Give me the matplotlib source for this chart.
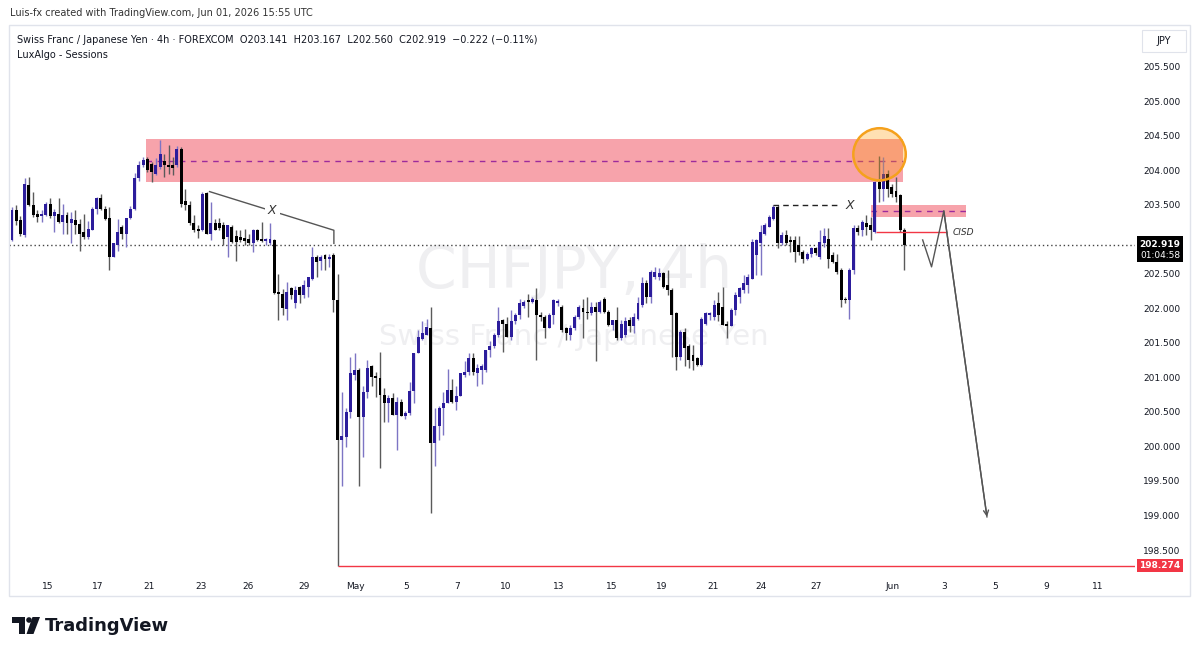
import matplotlib
matplotlib.use("Agg")
import matplotlib.pyplot as plt
from matplotlib.patches import Rectangle, Ellipse, Polygon

plt.rcParams['font.family'] = ['DejaVu Sans']

# 4h candles, CHFJPY
opens = [202.99, 203.43, 203.28, 203.06, 203.78, 203.50, 203.37, 203.33, 203.35, 203.51,
         203.33, 203.37, 203.25, 203.35, 203.23, 203.28, 203.22, 203.10, 203.03, 203.13,
         203.44, 203.59, 203.44, 203.31, 202.75, 202.92, 203.18, 203.08, 203.31, 203.44,
         203.88, 204.07, 204.16, 204.09, 203.95, 204.05, 204.14, 204.08, 204.07, 204.08,
         204.30, 203.55, 203.49, 203.23, 203.15, 203.13, 203.67, 203.08, 203.23, 203.23,
         203.20, 203.03, 203.18, 203.04, 203.03, 203.02, 203.01, 202.94, 203.14, 203.01,
         202.98, 202.94, 202.99, 202.24, 202.20, 201.99, 202.29, 202.07, 202.31, 202.19,
         202.31, 202.43, 202.75, 202.69, 202.77, 202.72, 202.77, 202.12, 200.10, 200.14,
         200.50, 201.04, 201.11, 200.43, 200.79, 201.16, 201.02, 200.99, 200.75, 200.63,
         200.70, 200.46, 200.64, 200.44, 200.48, 200.80, 201.35, 201.56, 201.61, 201.71,
         200.05, 200.29, 200.55, 200.63, 200.82, 200.65, 200.73, 201.04, 201.08, 201.28,
         201.06, 201.11, 201.11, 201.40, 201.45, 201.61, 201.83, 201.78, 201.59, 201.81,
         201.90, 202.04, 202.12, 202.09, 202.12, 201.90, 201.88, 201.72, 201.90, 202.07,
         202.02, 201.71, 201.61, 201.71, 201.88, 202.00, 201.95, 201.93, 202.02, 201.95,
         202.14, 201.95, 201.76, 201.83, 201.57, 201.62, 201.83, 201.74, 201.85, 202.05,
         202.36, 202.17, 202.46, 202.46, 202.51, 202.34, 202.26, 201.93, 201.30, 201.66,
         201.45, 201.33, 201.28, 201.18, 201.78, 201.90, 201.88, 202.07, 202.02, 201.78,
         201.74, 201.97, 202.17, 202.26, 202.34, 202.43, 202.77, 202.94, 203.08, 203.18,
         203.30, 203.47, 202.94, 203.06, 202.99, 202.99, 202.92, 202.82, 202.72, 202.79,
         202.87, 202.75, 202.94, 203.01, 202.77, 202.67, 202.55, 202.14, 202.12, 202.55,
         203.16, 203.13, 203.23, 203.20, 203.11, 203.83, 203.73, 203.95, 203.76, 203.70,
         203.64, 203.141]
highs = [203.47, 203.49, 203.33, 203.88, 203.90, 203.68, 203.42, 203.42, 203.54, 203.59,
         203.44, 203.59, 203.51, 203.40, 203.40, 203.42, 203.30, 203.37, 203.27, 203.47,
         203.61, 203.66, 203.48, 203.47, 202.95, 203.30, 203.20, 203.31, 203.48, 203.96,
         204.14, 204.19, 204.19, 204.12, 204.17, 204.43, 204.24, 204.36, 204.19, 204.35,
         204.34, 203.73, 203.55, 203.35, 203.20, 203.68, 203.68, 203.54, 203.30, 203.31,
         203.25, 203.20, 203.20, 203.13, 203.13, 203.15, 203.08, 203.15, 203.15, 203.25,
         203.02, 203.24, 203.00, 202.50, 202.28, 202.38, 202.31, 202.33, 202.33, 202.41,
         202.46, 202.89, 202.77, 202.77, 202.78, 202.78, 202.80, 202.50, 200.79, 200.55,
         201.30, 201.35, 201.13, 200.87, 201.25, 201.18, 201.08, 201.37, 200.84, 200.75,
         200.77, 200.72, 200.68, 200.52, 200.94, 201.35, 201.69, 201.81, 201.85, 202.02,
         200.55, 200.58, 200.79, 201.12, 200.97, 200.87, 201.06, 201.23, 201.35, 201.35,
         201.20, 201.20, 201.40, 201.52, 201.64, 202.02, 201.85, 201.88, 201.97, 201.93,
         202.14, 202.12, 202.21, 202.17, 202.29, 201.95, 201.90, 201.93, 202.14, 202.14,
         202.05, 201.73, 201.76, 201.90, 202.05, 202.14, 202.17, 202.09, 202.09, 202.12,
         202.17, 201.98, 201.83, 202.02, 201.83, 201.88, 201.88, 201.93, 202.17, 202.46,
         202.41, 202.55, 202.60, 202.58, 202.53, 202.55, 202.29, 201.95, 201.69, 201.71,
         201.49, 201.47, 201.30, 201.88, 201.95, 201.95, 202.12, 202.24, 202.31, 201.81,
         202.00, 202.24, 202.31, 202.48, 202.50, 203.01, 203.01, 203.20, 203.23, 203.35,
         203.49, 203.49, 203.11, 203.13, 203.04, 203.04, 203.04, 202.84, 202.82, 202.89,
         202.89, 203.13, 203.16, 203.16, 202.82, 202.79, 202.58, 202.17, 202.58, 203.20,
         203.20, 203.28, 203.35, 203.32, 203.85, 204.21, 204.19, 204.00, 203.80, 203.90,
         203.66, 203.167]
lows = [202.97, 203.20, 203.04, 203.03, 203.48, 203.32, 203.25, 203.25, 203.34, 203.31,
        203.11, 203.23, 203.08, 203.07, 202.94, 203.08, 202.83, 203.01, 203.01, 203.13,
        203.37, 203.42, 203.28, 202.55, 202.74, 202.83, 203.01, 202.89, 203.30, 203.42,
        203.85, 204.04, 203.97, 203.83, 203.93, 204.02, 203.90, 203.95, 203.93, 204.05,
        203.47, 203.42, 203.20, 203.11, 203.02, 203.12, 203.07, 202.99, 203.13, 203.13,
        202.91, 202.74, 202.94, 202.69, 202.96, 202.91, 202.91, 202.82, 202.98, 202.96,
        202.91, 202.91, 202.20, 201.83, 201.90, 201.83, 202.13, 202.00, 202.07, 202.15,
        202.17, 202.41, 202.46, 202.55, 202.55, 202.60, 201.95, 198.274, 199.42, 199.99,
        200.41, 200.96, 199.42, 199.84, 200.70, 200.87, 200.72, 199.69, 200.36, 200.36,
        200.46, 199.95, 200.44, 200.40, 200.46, 200.63, 201.35, 201.54, 201.61, 199.04,
        199.71, 200.10, 200.17, 200.63, 200.63, 200.53, 200.73, 201.01, 201.04, 201.04,
        200.87, 200.91, 201.08, 201.30, 201.42, 201.59, 201.37, 201.59, 201.54, 201.78,
        201.85, 202.00, 201.88, 202.07, 201.25, 201.81, 201.57, 201.71, 201.78, 202.04,
        201.66, 201.54, 201.54, 201.69, 201.85, 201.57, 201.85, 201.90, 201.23, 201.93,
        201.93, 201.74, 201.69, 201.54, 201.54, 201.59, 201.66, 201.64, 201.83, 202.02,
        202.07, 202.07, 202.43, 202.41, 202.29, 202.19, 201.30, 201.11, 201.25, 201.16,
        201.13, 201.11, 201.16, 201.16, 201.76, 201.83, 201.83, 201.81, 201.76, 201.57,
        201.74, 201.90, 202.07, 202.22, 202.22, 202.43, 202.48, 202.48, 203.06, 203.18,
        203.28, 202.87, 202.92, 202.92, 202.82, 202.67, 202.77, 202.65, 202.70, 202.74,
        202.77, 202.72, 202.89, 202.58, 202.65, 202.50, 202.02, 202.07, 201.85, 202.50,
        203.06, 203.04, 203.06, 202.99, 203.09, 203.54, 203.56, 203.61, 203.61, 203.54,
        203.10, 202.560]
closes = [203.43, 203.27, 203.07, 203.80, 203.49, 203.35, 203.32, 203.37, 203.51, 203.33,
          203.39, 203.25, 203.35, 203.24, 203.30, 203.20, 203.08, 203.03, 203.15, 203.44,
          203.59, 203.44, 203.29, 202.75, 202.94, 203.11, 203.08, 203.31, 203.44, 203.88,
          204.07, 204.15, 204.00, 203.97, 204.07, 204.24, 204.07, 204.05, 204.03, 204.30,
          203.51, 203.49, 203.23, 203.13, 203.12, 203.66, 203.08, 203.23, 203.14, 203.16,
          203.01, 203.20, 202.96, 202.96, 202.99, 202.98, 202.94, 203.14, 202.99, 202.98,
          203.00, 203.00, 202.22, 202.20, 202.00, 202.24, 202.19, 202.27, 202.19, 202.34,
          202.46, 202.74, 202.67, 202.75, 202.72, 202.75, 202.12, 200.10, 200.15, 200.50,
          201.06, 201.11, 200.43, 200.79, 201.13, 201.01, 200.99, 200.75, 200.63, 200.70,
          200.46, 200.64, 200.44, 200.48, 200.80, 201.35, 201.59, 201.64, 201.73, 200.05,
          200.29, 200.55, 200.63, 200.82, 200.65, 200.73, 201.06, 201.08, 201.28, 201.08,
          201.13, 201.16, 201.40, 201.45, 201.61, 201.81, 201.78, 201.59, 201.81, 201.90,
          202.07, 202.09, 202.09, 202.13, 201.90, 201.88, 201.72, 201.90, 202.12, 202.11,
          201.69, 201.64, 201.71, 201.88, 202.02, 201.95, 201.93, 202.02, 201.95, 202.09,
          201.95, 201.76, 201.83, 201.57, 201.78, 201.81, 201.74, 201.88, 202.07, 202.36,
          202.17, 202.53, 202.53, 202.51, 202.31, 202.27, 201.90, 201.30, 201.66, 201.42,
          201.25, 201.23, 201.18, 201.85, 201.93, 201.93, 202.05, 201.90, 201.76, 201.74,
          201.97, 202.19, 202.29, 202.36, 202.46, 202.96, 202.99, 203.11, 203.20, 203.32,
          203.47, 202.94, 203.06, 202.94, 202.96, 202.82, 202.82, 202.72, 202.79, 202.87,
          202.80, 202.96, 203.04, 202.72, 202.67, 202.53, 202.12, 202.12, 202.55, 203.16,
          203.11, 203.25, 203.18, 203.13, 203.83, 203.73, 203.95, 203.73, 203.66, 203.61,
          203.13, 202.919]

price_ticks = [198.5, 199.0, 199.5, 200.0, 200.5, 201.0, 201.5, 202.0, 202.5,
               203.0, 203.5, 204.0, 204.5, 205.0, 205.5]
date_ticks = [8.5, 20.2, 32.3, 44.7, 55.8, 69.1, 81.3, 93.2, 105.3, 116.8, 129.3,
              141.7, 153.7, 165.7, 177.0, 190.1, 208.2, 220.4, 232.5, 244.4, 256.6]
date_labels = ['15', '17', '21', '23', '26', '29', 'May', '5', '7', '10', '13',
               '15', '19', '21', '24', '27', 'Jun', '3', '5', '9', '11']

# drawings
zone_x = [31.7, 210.6]
zone_y = [203.83, 204.45]
zone_mid = 204.14
small_x = [203.2, 225.5]
small_y = [203.32, 203.50]
small_mid = 203.41
cisd_level = 203.10
cisd_x = [204.3, 221.0]
zig_x = [215.3, 217.4, 220.3, 230.5]
zig_y = [202.99, 202.60, 203.41, 198.98]
lx_x = [46.7, 76.1, 76.1]
lx_y = [203.69, 203.13, 202.94]
rx_x = [179.9, 195.7]
rx_level = 203.49
circle_c = (205.1, 204.23)
low_level = 198.274
low_idx = 77
last_price = 202.919

W, H = 1200, 652
fig = plt.figure(figsize=(W / 100, H / 100), dpi=100)
fig.patch.set_facecolor('white')


def fx(px):
    return px / W


def fy(py):
    return 1 - py / H


ax = fig.add_axes([fx(9), fy(572), (1135 - 9) / W, (572 - 25) / H])
ax.set_xlim(-0.71, 265.5)
ax.set_ylim(198.182, 206.102)
for s in ax.spines.values():
    s.set_visible(False)

ax.yaxis.tick_right()
ax.set_yticks(price_ticks)
ax.set_yticklabels(['%.3f' % v for v in price_ticks])
ax.tick_params(axis='y', length=0, pad=6, labelsize=6.5, labelcolor='#131722')
ax.set_xticks(date_ticks)
ax.set_xticklabels(date_labels)
ax.tick_params(axis='x', length=0, pad=7, labelsize=6.5, labelcolor='#131722')

# watermark
ax.text(fx(574), fy(272), 'CHFJPY, 4h', transform=fig.transFigure, fontsize=42,
        color='#efeff1', ha='center', va='center', zorder=0.2)
ax.text(fx(574), fy(337), 'Swiss Franc / Japanese Yen', transform=fig.transFigure,
        fontsize=21, color='#efeff1', ha='center', va='center', zorder=0.2)

# candles
idx = list(range(len(opens)))
up = [c >= o for o, c in zip(opens, closes)]
wick_cols = ['#7d75c4' if u else '#5a5a5a' for u in up]
body_cols = ['#2c1d9c' if u else '#000000' for u in up]
ax.vlines(idx, lows, highs, colors=wick_cols, lw=1, zorder=3)
ax.bar(idx, [max(abs(c - o), 0.012) for o, c in zip(opens, closes)], width=0.7,
       bottom=[min(o, c) for o, c in zip(opens, closes)], color=body_cols, zorder=4)

# supply zone
ax.add_patch(Rectangle((zone_x[0], zone_y[0]), zone_x[1] - zone_x[0], zone_y[1] - zone_y[0],
                       facecolor='#f7a3ab', edgecolor='none', zorder=1))
ax.hlines(zone_mid, zone_x[0], zone_x[1], colors='#9c2b9c', lw=1,
          linestyles=(0, (4, 4)), zorder=2)
ax.add_patch(Rectangle((small_x[0], small_y[0]), small_x[1] - small_x[0], small_y[1] - small_y[0],
                       facecolor='#f7a3ab', edgecolor='none', zorder=1))
ax.hlines(small_mid, small_x[0], small_x[1], colors='#9c2b9c', lw=1,
          linestyles=(0, (4, 4)), zorder=2)

ax.add_patch(Ellipse(circle_c, 12.4, 0.755, facecolor=(1.0, 0.6, 0.0, 0.3),
                     edgecolor='#f5a11c', lw=1.8, zorder=5))

# CISD
ax.hlines(cisd_level, cisd_x[0], cisd_x[1], colors='#f23645', lw=1, zorder=5)
ax.text(cisd_x[1] + 1.5, cisd_level, 'CISD', fontsize=6.5, style='italic',
        color='#333333', va='center', ha='left', zorder=6)

# projection path
ax.plot(zig_x, zig_y, color='#555555', lw=1, zorder=6)
ax.annotate('', xy=(zig_x[-1], zig_y[-1]), xytext=(zig_x[-2], zig_y[-2]),
            arrowprops=dict(arrowstyle='->', color='#555555', lw=1,
                            mutation_scale=9, shrinkA=0, shrinkB=0), zorder=6)

# X drawings
ax.plot(lx_x, lx_y, color='#555555', lw=1, zorder=6)
ax.text(61.5, 203.41, 'X', fontsize=9, style='italic', color='#333333', ha='center',
        va='center', zorder=7, bbox=dict(boxstyle='square,pad=0.25', fc='white', ec='none'))
ax.hlines(rx_level, rx_x[0], rx_x[1], colors='#222222', lw=1,
          linestyles=(0, (4, 3)), zorder=6)
ax.text(rx_x[1] + 2.4, rx_level, 'X', fontsize=9, style='italic', color='#333333',
        ha='center', va='center', zorder=7)

# current price dotted line and low line
ax.axhline(last_price, color='#444444', lw=1, linestyle=(0, (1, 2)), zorder=2)
ax.hlines(low_level, low_idx, 265.5, colors='#f23645', lw=1, zorder=5)


# price scale labels
def price_px(v):
    return ax.transData.transform((0, v))[1]


yd = price_px(last_price)
fig.add_artist(Rectangle((fx(1137), (yd - 17) / H), 46 / W, 26 / H,
                         transform=fig.transFigure, facecolor='black', edgecolor='none', zorder=5))
fig.text(fx(1160), (yd + 0.5) / H, '%.3f' % last_price, fontsize=6.5, fontweight='bold',
         color='white', ha='center', va='center', zorder=6)
fig.text(fx(1160), (yd - 10.5) / H, '01:04:58', fontsize=6.5, color='white',
         ha='center', va='center', zorder=6)

yl = price_px(low_level)
fig.add_artist(Rectangle((fx(1137), (yl - 6.5) / H), 46 / W, 13 / H,
                         transform=fig.transFigure, facecolor='#f23645', edgecolor='none', zorder=5))
fig.text(fx(1160), yl / H, '%.3f' % low_level, fontsize=6.5, fontweight='bold',
         color='white', ha='center', va='center', zorder=6)

# JPY button
fig.add_artist(Rectangle((fx(1142), fy(52)), 44 / W, 22 / H, transform=fig.transFigure,
                         facecolor='white', edgecolor='#e0e3eb', lw=0.8, zorder=5))
fig.text(fx(1164), fy(41), 'JPY', fontsize=7, color='#131722', ha='center', va='center', zorder=6)

# outer frame
fig.add_artist(Rectangle((fx(9), fy(596)), (1190 - 9) / W, (596 - 25) / H,
                         transform=fig.transFigure, facecolor='none', edgecolor='#e0e3eb',
                         lw=1, zorder=1))

# header & legend
fig.text(fx(10), fy(13), 'Luis-fx created with TradingView.com, Jun 01, 2026 15:55 UTC',
         fontsize=7, color='#333333', va='center', ha='left')
fig.text(fx(17), fy(40), 'Swiss Franc / Japanese Yen \u00b7 4h \u00b7 FOREXCOM  O203.141  H203.167  '
         'L202.560  C202.919  \u22120.222 (\u22120.11%)', fontsize=7, color='#131722',
         va='center', ha='left')
fig.text(fx(17), fy(55), 'LuxAlgo - Sessions', fontsize=7, color='#131722', va='center', ha='left')

# TradingView logo
logo = '#131722'
fig.add_artist(Polygon([(fx(12), fy(617)), (fx(25), fy(617)), (fx(25), fy(634)),
                        (fx(19), fy(634)), (fx(19), fy(622.5)), (fx(12), fy(622.5))],
                       closed=True, transform=fig.transFigure, facecolor=logo, edgecolor='none'))
fig.add_artist(Ellipse((fx(29), fy(620)), 5.6 / W, 5.6 / H, transform=fig.transFigure,
                       facecolor=logo, edgecolor='none'))
fig.add_artist(Polygon([(fx(32.5), fy(617)), (fx(40), fy(617)), (fx(33.5), fy(634)),
                        (fx(26.5), fy(634))], closed=True, transform=fig.transFigure,
                       facecolor=logo, edgecolor='none'))
fig.text(fx(45), fy(626), 'TradingView', fontsize=13, fontweight='bold', color=logo,
         va='center', ha='left')

fig.savefig('out.png', dpi=100, facecolor='white')
